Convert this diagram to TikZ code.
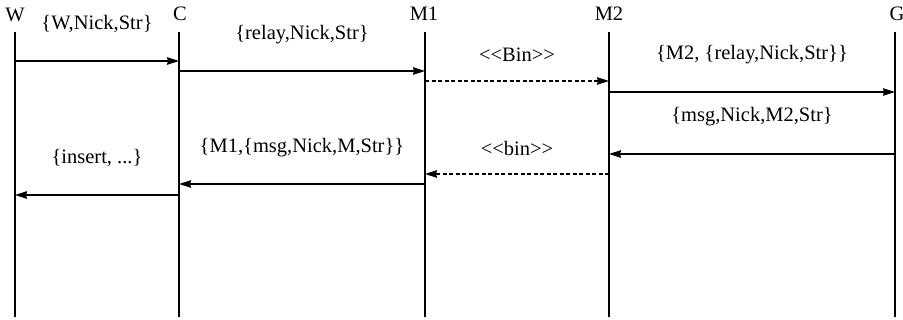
\documentclass[tikz,border=0pt]{standalone}
\usepackage{fontspec}
\setmainfont{Liberation Serif}
\usetikzlibrary{arrows.meta}
\begin{document}
\begin{tikzpicture}[x=1pt,y=-1pt,
  lbl/.style={font=\fontsize{20.5}{23}\selectfont, inner sep=0pt},
  life/.style={line width=1.4pt},
  msg/.style={line width=1.4pt, -{Stealth[length=12pt,width=7.5pt,inset=1pt]}},
  dmsg/.style={msg, dash pattern=on 4pt off 2.5pt}]
\useasboundingbox (0,0) rectangle (903,320);
% headers
\node[lbl] (hW) at (15,15) {W};
\node[lbl] (hC) at (180,14) {C};
\node[lbl] (hM1) at (424,14) {M1};
\node[lbl] (hM2) at (609,14) {M2};
\node[lbl] (hG) at (897,14) {G};
% lifelines
\foreach \n/\x in {W/15,C/179,M1/425,M2/609,G/895}{
  \coordinate (\n t) at (\x,32);
  \coordinate (\n b) at (\x,317);
  \draw[life] (\n t) -- (\n b);
}
% message levels
\foreach \i/\y in {1/61,2/71,3/81,4/92,5/154,6/174,7/184,8/195}{
  \coordinate (y\i) at (0,\y);
}
\draw[msg] (Wt |- y1) -- (Ct |- y1);
\draw[msg] (Ct |- y2) -- (M1t |- y2);
\draw[dmsg] (M1t |- y3) -- (M2t |- y3);
\draw[msg] (M2t |- y4) -- (Gt |- y4);
\draw[msg] (Gt |- y5) -- (M2t |- y5);
\draw[dmsg] (M2t |- y6) -- (M1t |- y6);
\draw[msg] (M1t |- y7) -- (Ct |- y7);
\draw[msg] (Ct |- y8) -- (Wt |- y8);
% labels
\node[lbl] (l1) at (97,24) {\{W,Nick,Str\}};
\node[lbl] (l2) at (302,35) {\{relay,Nick,Str\}};
\node[lbl] (l3) at (517,55) {<{}<Bin>{}>};
\node[lbl] (l4) at (752,55) {\{M2, \{relay,Nick,Str\}\}};
\node[lbl] (l5) at (752,117) {\{msg,Nick,M2,Str\}};
\node[lbl] (l6) at (517,148) {<{}<bin>{}>};
\node[lbl] (l7) at (302,148) {\{M1,\{msg,Nick,M,Str\}\}};
\node[lbl] (l8) at (97,158) {\{insert, ...\}};
\end{tikzpicture}
\end{document}
